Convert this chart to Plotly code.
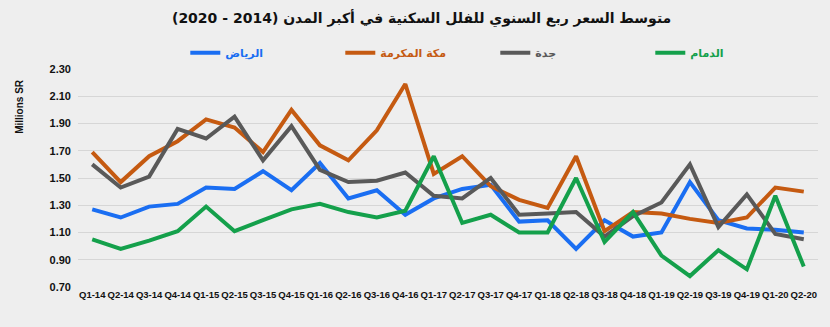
import plotly.graph_objects as go

# Quarterly labels Q1-14 ... Q2-20
quarters = [
    "Q1-14", "Q2-14", "Q3-14", "Q4-14", "Q1-15", "Q2-15", "Q3-15", "Q4-15",
    "Q1-16", "Q2-16", "Q3-16", "Q4-16", "Q1-17", "Q2-17", "Q3-17", "Q4-17",
    "Q1-18", "Q2-18", "Q3-18", "Q4-18", "Q1-19", "Q2-19", "Q3-19", "Q4-19",
    "Q1-20", "Q2-20",
]

# Average villa price, millions SR
riyadh = [1.27, 1.21, 1.29, 1.31, 1.43, 1.42, 1.55, 1.41, 1.61, 1.35, 1.41, 1.23,
          1.35, 1.42, 1.45, 1.18, 1.19, 0.98, 1.19, 1.07, 1.10, 1.47, 1.19, 1.13,
          1.12, 1.10]
makkah = [1.69, 1.47, 1.66, 1.77, 1.93, 1.87, 1.69, 2.00, 1.74, 1.63, 1.85, 2.19,
          1.53, 1.66, 1.44, 1.34, 1.28, 1.66, 1.11, 1.25, 1.24, 1.20, 1.17, 1.21,
          1.43, 1.40]
jeddah = [1.60, 1.43, 1.51, 1.86, 1.79, 1.95, 1.63, 1.88, 1.56, 1.47, 1.48, 1.54,
          1.37, 1.35, 1.50, 1.23, 1.24, 1.25, 1.07, 1.22, 1.32, 1.60, 1.14, 1.38,
          1.09, 1.05]
dammam = [1.05, 0.98, 1.04, 1.11, 1.29, 1.11, 1.19, 1.27, 1.31, 1.25, 1.21, 1.26,
          1.66, 1.17, 1.23, 1.10, 1.10, 1.50, 1.03, 1.25, 0.93, 0.78, 0.97, 0.83,
          1.37, 0.85]

y_ticks = [0.70, 0.90, 1.10, 1.30, 1.50, 1.70, 1.90, 2.10, 2.30]

series = [
    ("الرياض", riyadh, "#1a6ef2"),
    ("مكة المكرمة", makkah, "#c55a11"),
    ("جدة", jeddah, "#595959"),
    ("الدمام", dammam, "#14a04b"),
]

AR_FONT = "DejaVu Sans"
LAT_FONT = "Liberation Sans, Arial, sans-serif"

fig = go.Figure()
for name, values, color in series:
    fig.add_trace(go.Scatter(
        x=quarters,
        y=values,
        mode="lines",
        name=f"<span style='color:{color}'><b>{name}</b></span>",
        line=dict(color=color, width=4),
        cliponaxis=False,
    ))

fig.update_layout(
    width=830,
    height=327,
    paper_bgcolor="#eeeeee",
    plot_bgcolor="#eeeeee",
    margin=dict(l=78, r=12, t=69, b=40, autoexpand=False),
    title=dict(
        text="<b>متوسط السعر ربع السنوي للفلل السكنية في أكبر المدن (2014 - 2020)</b>",
        x=0.508,
        xanchor="center",
        y=0.945,
        yanchor="middle",
        font=dict(family=AR_FONT, size=14, color="#111111"),
    ),
    legend=dict(
        orientation="h",
        x=0.145,
        xanchor="left",
        y=1.075,
        yanchor="middle",
        entrywidth=110,
        entrywidthmode="pixels",
        itemwidth=30,
        font=dict(family=AR_FONT, size=11),
        bgcolor="rgba(0,0,0,0)",
    ),
    showlegend=True,
    xaxis=dict(
        type="category",
        range=[-0.5, len(quarters) - 0.5],
        tickmode="array",
        tickvals=quarters,
        ticktext=quarters,
        tickangle=0,
        showgrid=False,
        showline=False,
        zeroline=False,
        tickfont=dict(family=LAT_FONT, size=9.5, color="#111111", weight="bold"),
    ),
    yaxis=dict(
        range=[0.70, 2.30],
        tickmode="array",
        tickvals=y_ticks,
        tickformat=".2f",
        showgrid=True,
        gridcolor="#d6d6d6",
        gridwidth=1,
        zeroline=False,
        showline=False,
        ticklabelstandoff=6,
        tickfont=dict(family=LAT_FONT, size=11, color="#111111", weight="bold"),
    ),
    annotations=[
        dict(
            text="<b>Millions SR</b>",
            xref="paper",
            yref="paper",
            x=-0.08,
            y=0.83,
            xanchor="center",
            yanchor="middle",
            textangle=-90,
            showarrow=False,
            font=dict(family=LAT_FONT, size=10, color="#111111"),
        )
    ],
)

fig.write_html("out.html")
